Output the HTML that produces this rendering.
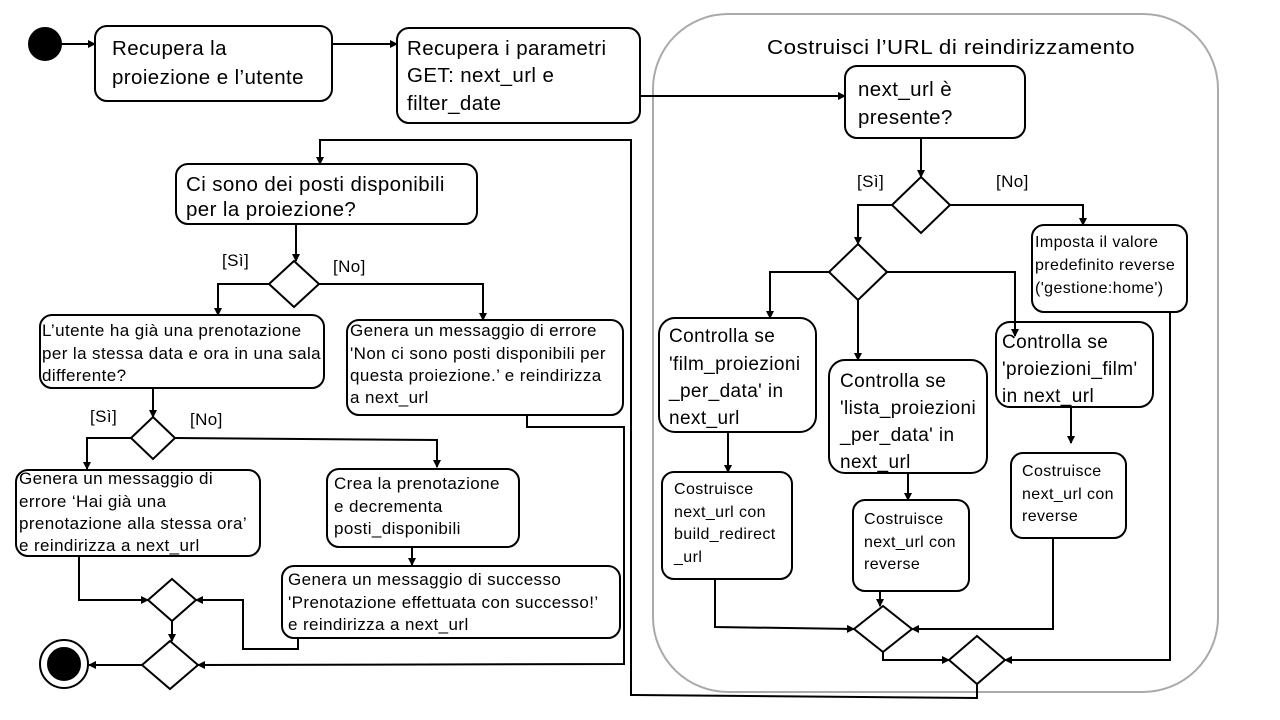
<!DOCTYPE html>
<html><head><meta charset="utf-8"><style>
html,body{margin:0;padding:0;background:#fff}
svg{display:block}
text{font-family:"Liberation Sans",sans-serif;fill:#000;letter-spacing:0.4px}
</style></head><body>
<svg width="1280" height="720" viewBox="0 0 1280 720" xmlns="http://www.w3.org/2000/svg">
<defs><marker id="a" markerWidth="8" markerHeight="8" refX="7" refY="4" orient="auto" markerUnits="userSpaceOnUse"><path d="M0,0 L8,4 L0,8 z" fill="#000"/></marker></defs>
<rect x="653" y="14" width="565" height="678" rx="75" fill="none" stroke="#aaa" stroke-width="2"/>
<text x="767" y="54" font-size="20" textLength="368" lengthAdjust="spacingAndGlyphs">Costruisci l’URL di reindirizzamento</text>
<g fill="none" stroke="#000" stroke-width="2">
<circle cx="45" cy="44" r="16" fill="#000"/>
<line x1="61" y1="44" x2="95" y2="44" marker-end="url(#a)"/>
<rect x="95" y="26" width="237" height="75" rx="12"/>
<line x1="332" y1="44" x2="397" y2="44" marker-end="url(#a)"/>
<rect x="397" y="28" width="243" height="95" rx="12"/>
<line x1="640" y1="96" x2="845" y2="96" marker-end="url(#a)"/>
<rect x="845" y="66" width="180" height="72" rx="12"/>
<line x1="921" y1="138" x2="921" y2="177" marker-end="url(#a)"/>
<polygon points="921,177 950,205 921,233 892,205"/>
<polyline points="892,205 858,205 858,244" marker-end="url(#a)"/>
<polyline points="950,205 1083,205 1083,225" marker-end="url(#a)"/>
<rect x="1032" y="225" width="155" height="87" rx="12"/>
<polygon points="858,244 887,272 858,300 829,272"/>
<polyline points="829,272 770,272 770,318" marker-end="url(#a)"/>
<polyline points="887,272 1015,272 1015,336" marker-end="url(#a)"/>
<line x1="858" y1="300" x2="858" y2="360" marker-end="url(#a)"/>
<rect x="659" y="318" width="157" height="114" rx="16"/>
<rect x="829" y="360" width="158" height="113" rx="16"/>
<rect x="996" y="322" width="157" height="85" rx="14"/>
<line x1="728" y1="432" x2="728" y2="472" marker-end="url(#a)"/>
<rect x="662" y="472" width="130" height="107" rx="12"/>
<line x1="908" y1="473" x2="908" y2="500" marker-end="url(#a)"/>
<rect x="853" y="500" width="116" height="91" rx="12"/>
<line x1="1071" y1="407" x2="1071" y2="443" marker-end="url(#a)"/>
<rect x="1011" y="453" width="115" height="85" rx="12"/>
<polygon points="883,606 912,629 883,652 854,629"/>
<polyline points="715,579 715,627 854,629" marker-end="url(#a)"/>
<line x1="880" y1="591" x2="880" y2="606" marker-end="url(#a)"/>
<polyline points="1053,538 1053,629 912,629" marker-end="url(#a)"/>
<polygon points="977,636 1005,660 977,684 949,660"/>
<polyline points="883,652 883,660 949,660" marker-end="url(#a)"/>
<polyline points="1170,312 1170,660 1005,660" marker-end="url(#a)"/>
<polyline points="977,684 977,698 631,695 631,140 320,140 320,164" marker-end="url(#a)"/>
<rect x="176" y="164" width="301" height="60" rx="12"/>
<line x1="296" y1="224" x2="296" y2="261" marker-end="url(#a)"/>
<polygon points="294,261 319,284 294,307 269,284"/>
<polyline points="269,284 218,284 218,315" marker-end="url(#a)"/>
<polyline points="319,284 483,284 483,320" marker-end="url(#a)"/>
<rect x="40" y="315" width="284" height="73" rx="12"/>
<rect x="347" y="320" width="276" height="95" rx="12"/>
<line x1="153" y1="388" x2="153" y2="417" marker-end="url(#a)"/>
<polygon points="153,417 175,438 153,459 131,438"/>
<polyline points="131,438 87,438 87,469" marker-end="url(#a)"/>
<polyline points="175,438 437,440 437,467" marker-end="url(#a)"/>
<rect x="16" y="470" width="244" height="86" rx="12"/>
<rect x="327" y="469" width="192" height="78" rx="12"/>
<line x1="412" y1="547" x2="412" y2="565" marker-end="url(#a)"/>
<rect x="282" y="566" width="338" height="72" rx="12"/>
<polygon points="172,579 196,600 172,621 148,600"/>
<polyline points="79,556 79,600 148,600" marker-end="url(#a)"/>
<polyline points="298,638 298,649 243,649 243,600 196,600" marker-end="url(#a)"/>
<line x1="172" y1="621" x2="172" y2="641" marker-end="url(#a)"/>
<polygon points="170,641 198,665 170,689 142,665"/>
<line x1="142" y1="665" x2="89" y2="665" marker-end="url(#a)"/>
<circle cx="64" cy="664" r="24" fill="#fff"/>
<circle cx="64" cy="664" r="16" fill="#000"/>
<polyline points="527,415 527,427 624,427 624,664 198,665" marker-end="url(#a)"/>
</g>
<g font-size="20.5">
<text x="112" y="55">Recupera la</text><text x="112" y="84">proiezione e l’utente</text>
<text x="407" y="55">Recupera i parametri</text><text x="407" y="82">GET: next_url e</text><text x="407" y="110">filter_date</text>
<text x="858" y="96">next_url è</text><text x="858" y="124">presente?</text>
<text x="186" y="191">Ci sono dei posti disponibili</text><text x="186" y="216">per la proiezione?</text>
</g>
<g font-size="17">
<text x="857" y="187">[Sì]</text><text x="996" y="187">[No]</text>
<text x="222" y="266">[Sì]</text><text x="333" y="272">[No]</text>
<text x="90" y="422">[Sì]</text><text x="190" y="425">[No]</text>
</g>
<g font-size="17" letter-spacing="0">
<text x="42" y="336">L’utente ha già una prenotazione</text><text x="42" y="359">per la stessa data e ora in una sala</text><text x="42" y="381">differente?</text>
<text x="350" y="336">Genera un messaggio di errore</text><text x="350" y="359">'Non ci sono posti disponibili per</text><text x="350" y="381">questa proiezione.’ e reindirizza</text><text x="350" y="403">a next_url</text>
<text x="19" y="484">Genera un messaggio di</text><text x="19" y="507">errore ‘Hai già una</text><text x="19" y="529">prenotazione alla stessa ora’</text><text x="19" y="551">e reindirizza a next_url</text>
<text x="334" y="489">Crea la prenotazione</text><text x="334" y="512">e decrementa</text><text x="334" y="534">posti_disponibili</text>
<text x="288" y="585">Genera un messaggio di successo</text><text x="288" y="608">'Prenotazione effettuata con successo!’</text><text x="288" y="630">e reindirizza a next_url</text>
</g>
<g font-size="16" letter-spacing="0">
<text x="1035" y="247">Imposta il valore</text><text x="1035" y="270">predefinito reverse</text><text x="1035" y="293">('gestione:home')</text>
<text x="674" y="494">Costruisce</text><text x="674" y="517">next_url con</text><text x="674" y="539">build_redirect</text><text x="674" y="562">_url</text>
<text x="864" y="524">Costruisce</text><text x="864" y="547">next_url con</text><text x="864" y="569">reverse</text>
<text x="1022" y="476">Costruisce</text><text x="1022" y="499">next_url con</text><text x="1022" y="521">reverse</text>
</g>
<g font-size="19" letter-spacing="0.3">
<text x="669" y="342">Controlla se</text><text x="669" y="370">'film_proiezioni</text><text x="669" y="397">_per_data' in</text><text x="669" y="424">next_url</text>
<text x="840" y="387">Controlla se</text><text x="840" y="414">'lista_proiezioni</text><text x="840" y="441">_per_data' in</text><text x="840" y="468">next_url</text>
<text x="1002" y="348">Controlla se</text><text x="1002" y="375">'proiezioni_film'</text><text x="1002" y="402">in next_url</text>
</g>
</svg>
</body></html>
